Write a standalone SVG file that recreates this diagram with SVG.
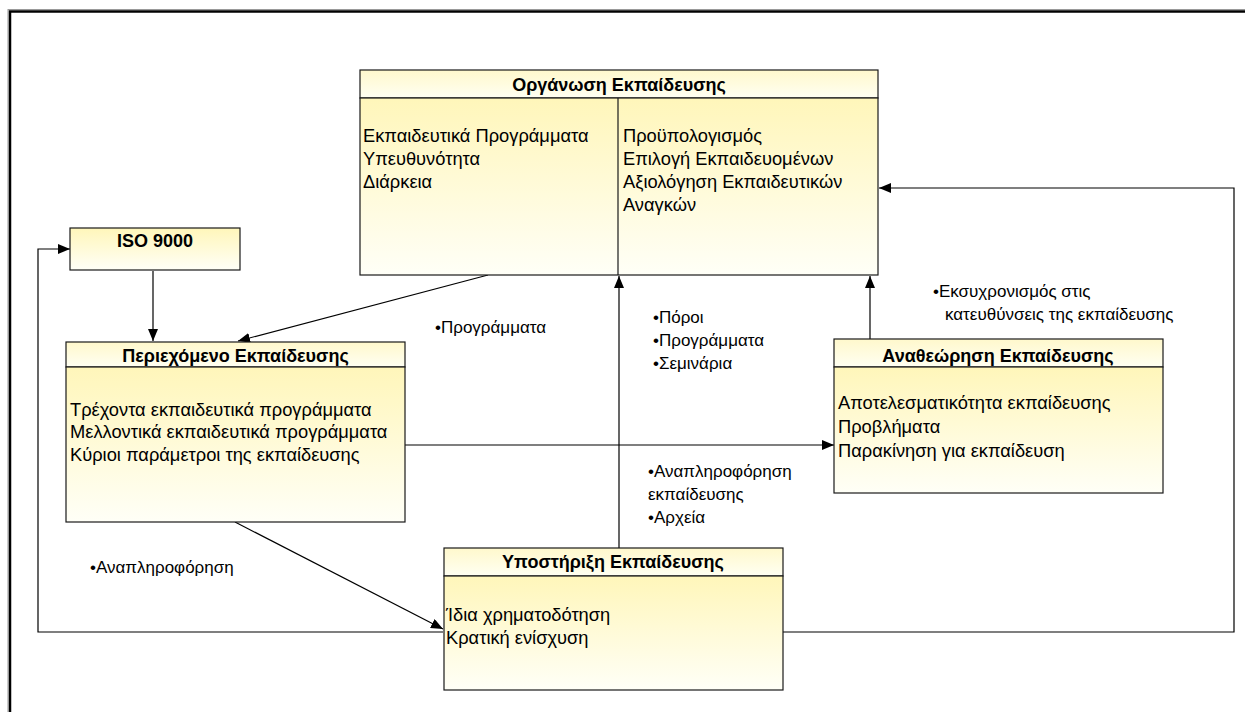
<svg xmlns="http://www.w3.org/2000/svg" width="1245" height="712" viewBox="0 0 1245 712">
<style>
.box{stroke:#1a1a1a;stroke-width:1.2;}
.t{font-family:"Liberation Sans",Arial,sans-serif;font-size:18.3px;fill:#000;}
.h{font-family:"Liberation Sans",Arial,sans-serif;font-size:18px;font-weight:bold;fill:#000;text-anchor:middle;}
.l{font-family:"Liberation Sans",Arial,sans-serif;font-size:17px;fill:#000;}
.c{fill:none;stroke:#000;stroke-width:1.2;}
</style>
<defs>
<linearGradient id="gb" x1="0" y1="0" x2="0" y2="1">
<stop offset="0" stop-color="#FFF6BA"/>
<stop offset="1" stop-color="#FFFFF7"/>
</linearGradient>
<linearGradient id="gh" x1="0" y1="0" x2="0" y2="1">
<stop offset="0" stop-color="#FFF8CC"/>
<stop offset="1" stop-color="#FFFFF2"/>
</linearGradient>
<marker id="a" markerWidth="12" markerHeight="10" refX="12" refY="5" orient="auto" markerUnits="userSpaceOnUse">
<path d="M0,0 L12,5 L0,10 Z" fill="#000"/>
</marker>
</defs>
<rect width="1245" height="712" fill="#fff"/>
<rect x="8" y="9.5" width="1300" height="800" fill="none" stroke="#999" stroke-width="1"/>
<rect x="10" y="11.5" width="1300" height="800" fill="none" stroke="#000" stroke-width="2.5"/>

<g id="connectors">
<line class="c" x1="153" y1="271" x2="153" y2="341" marker-end="url(#a)"/>
<polyline class="c" points="443,632 38,632 38,249 70,249" marker-end="url(#a)"/>
<line class="c" x1="488" y1="275" x2="238" y2="341" marker-end="url(#a)"/>
<line class="c" x1="235" y1="522" x2="443" y2="629" marker-end="url(#a)"/>
<line class="c" x1="405" y1="445" x2="834" y2="445" marker-end="url(#a)"/>
<line class="c" x1="619" y1="548" x2="619" y2="276" marker-end="url(#a)"/>
<line class="c" x1="870" y1="339" x2="870" y2="276" marker-end="url(#a)"/>
<polyline class="c" points="783,632 1234,632 1234,188 879,188" marker-end="url(#a)"/>
<text class="l" x="435" y="333">•Προγράμματα</text>
<text class="l" x="653" y="323">•Πόροι</text>
<text class="l" x="653" y="346">•Προγράμματα</text>
<text class="l" x="653" y="369">•Σεμινάρια</text>
<text class="l" x="648" y="477">•Αναπληροφόρηση</text>
<text class="l" x="648" y="500">εκπαίδευσης</text>
<text class="l" x="648" y="523">•Αρχεία</text>
<text class="l" x="933" y="297">•Εκσυχρονισμός στις</text>
<text class="l" x="945" y="320">κατευθύνσεις της εκπαίδευσης</text>
<text class="l" x="90" y="573">•Αναπληροφόρηση</text>
</g>

<g id="organosi">
<rect class="box" x="360" y="70" width="518" height="28" fill="url(#gh)"/>
<rect class="box" x="360" y="98" width="518" height="177" fill="url(#gb)"/>
<line class="box" x1="618" y1="98" x2="618" y2="275"/>
<text class="h" x="619" y="91">Οργάνωση Εκπαίδευσης</text>
<text class="t" x="363" y="142">Εκπαιδευτικά Προγράμματα</text>
<text class="t" x="363" y="165">Υπευθυνότητα</text>
<text class="t" x="363" y="188">Διάρκεια</text>
<text class="t" x="623" y="142">Προϋπολογισμός</text>
<text class="t" x="623" y="165">Επιλογή Εκπαιδευομένων</text>
<text class="t" x="623" y="188">Αξιολόγηση Εκπαιδευτικών</text>
<text class="t" x="623" y="211">Αναγκών</text>
</g>

<g id="iso">
<rect class="box" x="70" y="228" width="170" height="42" fill="url(#gb)"/>
<text class="h" x="155" y="247">ISO 9000</text>
</g>

<g id="periexomeno">
<rect class="box" x="66" y="342" width="339" height="25" fill="url(#gh)"/>
<rect class="box" x="66" y="367" width="339" height="155" fill="url(#gb)"/>
<text class="h" x="235.5" y="362">Περιεχόμενο Εκπαίδευσης</text>
<text class="t" x="70" y="416">Τρέχοντα εκπαιδευτικά προγράμματα</text>
<text class="t" x="70" y="438">Μελλοντικά εκπαιδευτικά προγράμματα</text>
<text class="t" x="70" y="461">Κύριοι παράμετροι της εκπαίδευσης</text>
</g>

<g id="anatheorisi">
<rect class="box" x="834" y="339" width="329" height="28" fill="url(#gh)"/>
<rect class="box" x="834" y="367" width="329" height="126" fill="url(#gb)"/>
<text class="h" x="998" y="362">Αναθεώρηση Εκπαίδευσης</text>
<text class="t" x="838" y="409">Αποτελεσματικότητα εκπαίδευσης</text>
<text class="t" x="838" y="433">Προβλήματα</text>
<text class="t" x="838" y="457">Παρακίνηση για εκπαίδευση</text>
</g>

<g id="ypostirixi">
<rect class="box" x="444" y="548" width="339" height="28" fill="url(#gh)"/>
<rect class="box" x="444" y="576" width="339" height="114" fill="url(#gb)"/>
<text class="h" x="613" y="568">Υποστήριξη Εκπαίδευσης</text>
<text class="t" x="446" y="621">Ίδια χρηματοδότηση</text>
<text class="t" x="446" y="644">Κρατική ενίσχυση</text>
</g>
</svg>
